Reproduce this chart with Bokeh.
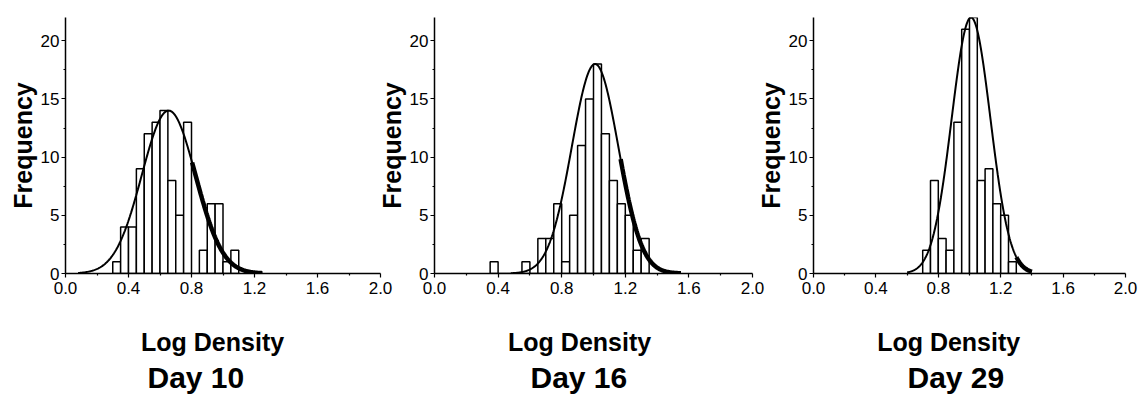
import numpy as np
from bokeh.plotting import figure
from bokeh.layouts import row
from bokeh.models import Range1d, Title, ColumnDataSource, FixedTicker
from bokeh.embed import file_html
from bokeh.resources import INLINE

# ---- data ----
bin_width = 0.05

day10_bin_left = [0.30, 0.35, 0.40, 0.45, 0.50, 0.55, 0.60, 0.65, 0.70, 0.75, 0.80, 0.85, 0.90, 0.95, 1.00, 1.05]
day10_counts   = [1, 4, 4, 9, 12, 13, 14, 8, 5, 13, 0, 2, 6, 6, 1, 2]

day16_bin_left = [0.35, 0.40, 0.45, 0.50, 0.55, 0.60, 0.65, 0.70, 0.75, 0.80, 0.85, 0.90, 0.95, 1.00, 1.05, 1.10, 1.15, 1.20, 1.25, 1.30]
day16_counts   = [1, 0, 0, 0, 1, 0, 3, 3, 6, 1, 5, 11, 15, 18, 12, 8, 6, 5, 2, 3]

day29_bin_left = [0.70, 0.75, 0.80, 0.85, 0.90, 0.95, 1.00, 1.05, 1.10, 1.15, 1.20, 1.25]
day29_counts   = [2, 8, 3, 2, 13, 21, 22, 8, 9, 6, 5, 1]

# fitted normal curves: [peak, mean, sd, curve start, curve end, start of bold part]
day10_fit = [14.0, 0.655, 0.170, 0.08, 1.25, 0.80]
day16_fit = [18.0, 1.010, 0.146, 0.48, 1.55, 1.17]
day29_fit = [22.0, 1.010, 0.124, 0.60, 1.40, 1.30]

x_ticks = [0.0, 0.4, 0.8, 1.2, 1.6, 2.0]
y_ticks = [0, 5, 10, 15, 20]

panel_titles = ["Day 10", "Day 16", "Day 29"]
x_axis_title = "Log Density"
y_axis_title = "Frequency"

FONT = "Liberation Sans"
NBSP = "\u00a0"


def make_panel(bin_left, counts, fit, day_text, left_b, right_b, frame_w, log_pad, day_off):
    W = left_b + frame_w + right_b
    p = figure(width=W, height=394, output_backend="svg", toolbar_location=None,
               x_range=Range1d(0, 2.0), y_range=Range1d(0, 22),
               min_border_left=left_b, min_border_right=right_b,
               min_border_top=17, min_border_bottom=121)
    p.outline_line_color = None
    p.grid.visible = False
    p.background_fill_alpha = 0
    p.border_fill_alpha = 0

    centers = [b + bin_width / 2 for b in bin_left]
    src = ColumnDataSource(dict(x=centers, top=counts))
    p.vbar(x="x", top="top", bottom=0, width=bin_width, source=src,
           fill_color="white", line_color="black", line_width=1.5)

    peak, mu, sd, x0, x1, xb = fit
    xs = np.linspace(x0, x1, 300)
    ys = peak * np.exp(-(xs - mu) ** 2 / (2 * sd ** 2))
    p.line(xs, ys, line_color="black", line_width=2)
    m = xs >= xb
    p.line(xs[m], ys[m], line_color="black", line_width=4.5)

    for ax in (p.xaxis[0], p.yaxis[0]):
        ax.axis_line_width = 1.5
        ax.axis_line_color = "black"
        ax.major_tick_line_color = "black"
        ax.minor_tick_line_color = "black"
        ax.major_tick_line_width = 1.2
        ax.minor_tick_line_width = 1.2
        ax.major_tick_in = 0
        ax.major_tick_out = 4
        ax.minor_tick_in = 0
        ax.minor_tick_out = 2
        ax.major_label_text_font = FONT
        ax.major_label_text_font_size = "17px"
        ax.major_label_text_color = "black"
        ax.major_label_standoff = 2
        ax.axis_label_text_font = FONT
        ax.axis_label_text_font_style = "bold"
        ax.axis_label_text_color = "black"

    p.xaxis[0].major_label_standoff = 4
    p.xaxis[0].ticker = FixedTicker(ticks=x_ticks, minor_ticks=[0.2, 0.6, 1.0, 1.4, 1.8])
    p.xaxis[0].major_label_overrides = {t: f"{t:.1f}" for t in x_ticks}
    p.yaxis[0].ticker = FixedTicker(ticks=y_ticks, minor_ticks=[2.5, 7.5, 12.5, 17.5])

    p.yaxis[0].axis_label = y_axis_title
    p.yaxis[0].axis_label_text_font_size = "25px"
    p.yaxis[0].axis_label_standoff = 1

    p.xaxis[0].axis_label = x_axis_title + NBSP * log_pad
    p.xaxis[0].axis_label_text_font_size = "25px"
    p.xaxis[0].axis_label_standoff = 31

    t_day = Title(text=day_text, align="left", offset=day_off, standoff=0,
                  text_font=FONT, text_font_size="30px", text_font_style="bold",
                  text_color="black")
    p.add_layout(t_day, "below")
    return p


p1 = make_panel(day10_bin_left, day10_counts, day10_fit, panel_titles[0], 65, 15, 315, 3, 82)
p2 = make_panel(day16_bin_left, day16_counts, day16_fit, panel_titles[1], 58, 16, 320, 4, 96)
p3 = make_panel(day29_bin_left, day29_counts, day29_fit, panel_titles[2], 58, 14, 314, 6, 94)
p2.margin = (0, 0, 0, -21)
p3.margin = (0, 0, 0, -15)

layout = row(p1, p2, p3)
layout.margin = 0
layout.spacing = 0

html = file_html(layout, INLINE)
html = html.replace("<head>", "<head><style>html,body{margin:0;padding:0;}</style>", 1)
open("out.html", "w").write(html)
